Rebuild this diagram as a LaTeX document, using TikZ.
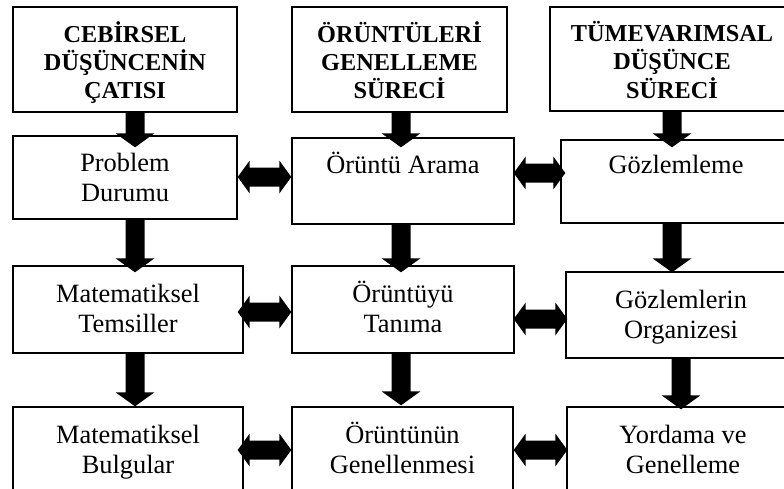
\documentclass[tikz,border=0pt]{standalone}
\usepackage{fontspec}
\setmainfont{Liberation Serif}
\usetikzlibrary{calc}

\tikzset{
  box/.style={draw, line width=1.4pt, fill=white, inner sep=0pt, align=center,
    font=\fontsize{26.4}{30}\selectfont, text depth=0pt, text height=47pt},
  headbox/.style={box, font=\bfseries\fontsize{24.3}{28.2}\selectfont,
    text depth=0pt, text height=78pt},
  oneline/.style={text height=0pt, text depth=16pt},
  fat/.style={fill=black},
}

% thick downward block arrow: shaft from #1, tip at the y of #2
\newcommand\vfat[2]{\fill[fat] let \p1=(#1), \p2=(#2) in
  (\x1-9.5pt,\y1) -- (\x1-9.5pt,\y2+14pt) -- (\x1-19.5pt,\y2+14pt) -- (\x1,\y2)
  -- (\x1+19.5pt,\y2+14pt) -- (\x1+9.5pt,\y2+14pt) -- (\x1+9.5pt,\y1) -- cycle;}

% thick double-headed horizontal block arrow between the x of #1 and #2, at the y of #1
\newcommand\hfat[2]{\fill[fat] let \p1=(#1), \p2=(#2) in
  (\x1,\y1) -- (\x1+12pt,\y1+16.5pt) -- (\x1+12pt,\y1+9.5pt) -- (\x2-12pt,\y1+9.5pt)
  -- (\x2-12pt,\y1+16.5pt) -- (\x2,\y1) -- (\x2-12pt,\y1-16.5pt) -- (\x2-12pt,\y1-9.5pt)
  -- (\x1+12pt,\y1-9.5pt) -- (\x1+12pt,\y1-16.5pt) -- cycle;}

\begin{document}
\begin{tikzpicture}[x=1pt,y=-1pt]
\useasboundingbox (0,0) rectangle (784,488);
\clip (0,0) rectangle (784,488);

% column headings
\node[headbox, minimum width=224, minimum height=105] (A1) at (125,59.5)
  {CEBİRSEL\\DÜŞÜNCENİN\\ÇATISI};
\node[headbox, minimum width=215, minimum height=105] (B1) at (399.5,59.5)
  {ÖRÜNTÜLERİ\\GENELLEME\\SÜRECİ};
\node[headbox, minimum width=244, minimum height=104] (C1) at (672,59)
  {TÜMEVARIMSAL\\DÜŞÜNCE\\SÜRECİ};

% second row
\node[box, minimum width=224, minimum height=83] (A2) at (125,177.5) {Problem\\Durumu};
\node[box, oneline, minimum width=222, minimum height=86] (B2) at (403,181) {Örüntü Arama};
\node[box, oneline, minimum width=230, minimum height=83] (C2) at (676,181.5) {Gözlemleme};

% third row
\node[box, text height=45pt, minimum width=230, minimum height=87] (A3) at (128,309.5) {Matematiksel\\Temsiller};
\node[box, text height=45pt, minimum width=222, minimum height=87] (B3) at (403,309.5) {Örüntüyü\\Tanıma};
\node[box, text height=46pt, minimum width=230, minimum height=86] (C3) at (681,315) {Gözlemlerin\\Organizesi};

% fourth row
\node[box, minimum width=230, minimum height=85] (A4) at (128,449.5) {Matematiksel\\Bulgular};
\node[box, minimum width=221, minimum height=85] (B4) at (402.5,449.5) {Örüntünün\\Genellenmesi};
\node[box, minimum width=232, minimum height=85] (C4) at (683,449.5) {Yordama ve\\Genelleme};

% downward arrows
\vfat{$(A1.south)+(10,0)$}{$(A2.north)+(10,12)$}
\vfat{$(B1.south)+(1.5,0)$}{$(B2.north)+(-2,10)$}
\vfat{$(C1.south)+(0,0)$}{$(C2.north)+(-4,8)$}
\vfat{$(A2.south)+(10,0)$}{$(A3.north)+(7,7)$}
\vfat{$(B2.south)+(-2,0)$}{$(B3.north)+(-2,7)$}
\vfat{$(C2.south)+(-4,0)$}{$(C3.north)+(-9,1)$}
\vfat{$(A3.south)+(7,0)$}{$(A4.north)+(7,0)$}
\vfat{$(B3.south)+(-2,0)$}{$(B4.north)+(-1.5,-1)$}
\vfat{$(C3.south)+(0,0)$}{$(C4.north)+(-2,3)$}

% double arrows between neighbouring boxes
\hfat{$(A2.east)+(0,-0.5)$}{B2.west}
\hfat{$(B2.east)+(-1,-8)$}{$(C2.west)+(5,0)$}
\hfat{$(A3.east)+(-6,2.5)$}{B3.west}
\hfat{$(B3.east)+(-1,9.5)$}{$(C3.west)+(2,0)$}
\hfat{$(A4.east)+(-6,0.5)$}{B4.west}
\hfat{$(B4.east)+(0,0.5)$}{$(C4.west)+(1,0)$}
\end{tikzpicture}
\end{document}
